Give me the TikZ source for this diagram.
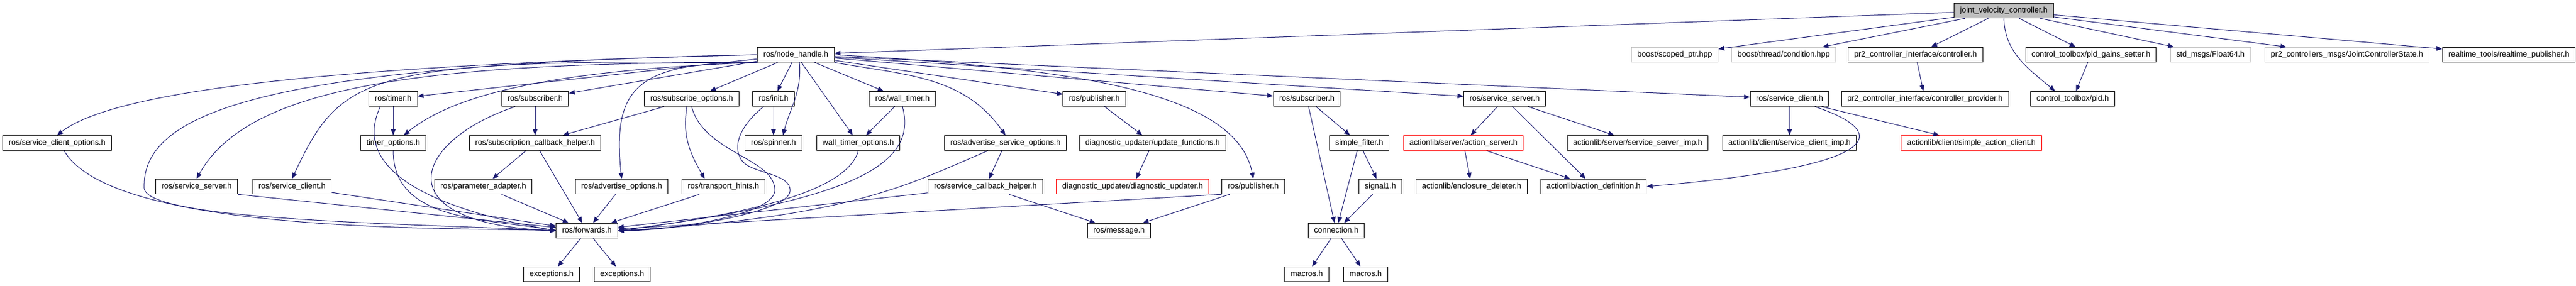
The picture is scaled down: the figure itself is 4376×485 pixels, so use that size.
\documentclass[tikz,border=0pt]{standalone}
\usepackage{fontspec}
\setmainfont{Liberation Sans}
\usetikzlibrary{arrows.meta}
\definecolor{edgeblue}{HTML}{191970}
\definecolor{boxgrey}{HTML}{BFBFBF}
\begin{document}
\begin{tikzpicture}[x=1pt, y=1pt]
            \tikzstyle{file} = [rectangle, draw=black, fill=white, line width=1pt, minimum height=25.5pt, inner xsep=10pt, inner ysep=0pt, text height=9.5pt, text depth=3pt, font=\fontsize{13.3}{16}\selectfont]
            \tikzstyle{mainfile} = [file, fill=boxgrey]
            \tikzstyle{nofile} = [file, draw=boxgrey]
            \tikzstyle{redfile} = [file, draw=red]
            \tikzstyle{edge} = [draw=edgeblue, line width=1pt, -{Triangle[length=10pt,width=8pt]}]
            \useasboundingbox (0,0) rectangle (4376,-485);

            \node[mainfile] (jvc) at (3404,-18) {joint\_velocity\_controller.h};

            \node[file] (nh) at (1352,-93) {ros/node\_handle.h};
            \node[nofile] (scptr) at (2845,-93) {boost/scoped\_ptr.hpp};
            \node[nofile] (cond) at (3030,-93) {boost/thread/condition.hpp};
            \node[file] (ctrl) at (3254,-93) {pr2\_controller\_interface/controller.h};
            \node[file] (pgs) at (3552,-93) {control\_toolbox/pid\_gains\_setter.h};
            \node[nofile] (f64) at (3755,-93) {std\_msgs/Float64.h};
            \node[nofile] (jcs) at (3987,-93) {pr2\_controllers\_msgs/JointControllerState.h};
            \node[file] (rtp) at (4262,-93) {realtime\_tools/realtime\_publisher.h};

            \node[file] (timer) at (668,-168) {ros/timer.h};
            \node[file] (sub) at (909,-168) {ros/subscriber.h};
            \node[file] (subopt) at (1175,-168) {ros/subscribe\_options.h};
            \node[file] (init) at (1314,-168) {ros/init.h};
            \node[file] (wtimer) at (1533,-168) {ros/wall\_timer.h};
            \node[file] (pub) at (1859,-168) {ros/publisher.h};
            \node[file] (subB) at (2220,-168) {ros/subscriber.h};
            \node[file] (srvB) at (2556,-168) {ros/service\_server.h};
            \node[file] (cliB) at (3040,-168) {ros/service\_client.h};
            \node[file] (prov) at (3270,-168) {pr2\_controller\_interface/controller\_provider.h};
            \node[file] (pid) at (3521,-168) {control\_toolbox/pid.h};

            \node[file] (cliopt) at (97,-243) {ros/service\_client\_options.h};
            \node[file] (topt) at (668,-243) {timer\_options.h};
            \node[file] (scbh) at (909,-243) {ros/subscription\_callback\_helper.h};
            \node[file] (spin) at (1314,-243) {ros/spinner.h};
            \node[file] (wtopt) at (1458,-243) {wall\_timer\_options.h};
            \node[file] (asopt) at (1708,-243) {ros/advertise\_service\_options.h};
            \node[file] (updf) at (1958,-243) {diagnostic\_updater/update\_functions.h};
            \node[file] (sfilt) at (2309,-243) {simple\_filter.h};
            \node[redfile] (asrv) at (2486,-243) {actionlib/server/action\_server.h};
            \node[file] (ssimp) at (2782,-243) {actionlib/server/service\_server\_imp.h};
            \node[file] (scimp) at (3040,-243) {actionlib/client/service\_client\_imp.h};
            \node[redfile] (sac) at (3349,-243) {actionlib/client/simple\_action\_client.h};

            \node[file] (srv) at (334,-317) {ros/service\_server.h};
            \node[file] (cli) at (496,-317) {ros/service\_client.h};
            \node[file] (padapt) at (821,-317) {ros/parameter\_adapter.h};
            \node[file] (advopt) at (1056,-317) {ros/advertise\_options.h};
            \node[file] (thints) at (1229,-317) {ros/transport\_hints.h};
            \node[file] (svcbh) at (1674,-317) {ros/service\_callback\_helper.h};
            \node[redfile] (dupd) at (1924,-317) {diagnostic\_updater/diagnostic\_updater.h};
            \node[file] (pubB) at (2129,-317) {ros/publisher.h};
            \node[file] (sig) at (2345,-317) {signal1.h};
            \node[file] (encl) at (2500,-317) {actionlib/enclosure\_deleter.h};
            \node[file] (adef) at (2707,-317) {actionlib/action\_definition.h};

            \node[file] (fwd) at (997,-392) {ros/forwards.h};
            \node[file] (msg) at (1901,-392) {ros/message.h};
            \node[file] (conn) at (2270,-392) {connection.h};

            \node[file] (exA) at (937,-466) {exceptions.h};
            \node[file] (exB) at (1057,-466) {exceptions.h};
            \node[file] (macA) at (2220,-466) {macros.h};
            \node[file] (macB) at (2320,-466) {macros.h};

            \draw[edge] (jvc)--(nh);
            \draw[edge] (jvc)--(scptr);
            \draw[edge] (jvc)--(cond);
            \draw[edge] (jvc)--(ctrl);
            \draw[edge] (jvc)--(pgs);
            \draw[edge] (jvc)--(f64);
            \draw[edge] (jvc)--(jcs);
            \draw[edge] (jvc)--(rtp);
            \draw[edge] (jvc.south) to [out=-88,in=140] ([xshift=-30pt]pid.north);
            \draw[edge] (ctrl)--(prov);
            \draw[edge] (pgs)--(pid);

            \draw[edge] (nh)--(timer);
            \draw[edge] (nh)--(sub);
            \draw[edge] (nh)--(subopt);
            \draw[edge] (nh)--(init);
            \draw[edge] (nh)--(wtopt);
            \draw[edge] (nh)--(wtimer);
            \draw[edge] (nh)--(pub);
            \draw[edge] (nh)--(subB);
            \draw[edge] (nh)--(srvB);
            \draw[edge] (nh)--(cliB);
            \draw[edge] (nh.west) .. controls (600,-110) and (200,-150) .. (cliopt.north);
            \draw[edge] (nh.west) .. controls (450,-110) and (240,-190) .. (245,-320) .. controls (250,-375) and (700,-380) .. (fwd.west);
            \draw[edge] (nh.south west) .. controls (700,-105) and (420,-150) .. (srv.north);
            \draw[edge] (nh.south west) .. controls (620,-100) and (580,-125) .. (cli.north);
            \draw[edge] (nh.south west) .. controls (900,-120) and (760,-170) .. ([xshift=18pt]topt.north);
            \draw[edge] (nh.south west) .. controls (1080,-105) and (1040,-150) .. (advopt.north);
            \draw[edge] ([xshift=6pt]nh.south) to [out=-85,in=75] ([xshift=16pt]spin.north);
            \draw[edge] (nh.south east) to [out=-10,in=125] (asopt.north);
            \draw[edge] (nh.east) .. controls (1800,-115) and (2100,-150) .. (pubB.north);

            \draw[edge] (timer)--(topt);
            \draw[edge] ([xshift=-22pt]timer.south) to [out=-115,in=170] (fwd.west);
            \draw[edge] (sub)--(scbh);
            \draw[edge] ([xshift=-34pt]sub.south) .. controls (700,-240) and (650,-380) .. (fwd.west);
            \draw[edge] (subopt)--(scbh);
            \draw[edge] ([xshift=-8pt]subopt.south) to [out=-100,in=120] ([xshift=-32pt]thints.north);
            \draw[edge] (subopt.south) .. controls (1195,-260) and (1320,-270) .. (1316,-325) .. controls (1312,-365) and (1150,-390) .. (fwd.east);
            \draw[edge] (init)--(spin);
            \draw[edge] ([xshift=-17pt]init.south) .. controls (1250,-220) and (1245,-255) .. (1262,-275) .. controls (1280,-295) and (1345,-295) .. (1342,-325) .. controls (1340,-360) and (1150,-392) .. (fwd.east);
            \draw[edge] (wtimer)--(wtopt);
            \draw[edge] (wtimer.south) .. controls (1560,-280) and (1450,-340) .. (fwd.east);

            \draw[edge] ([xshift=12pt]cliopt.south) to [out=-60,in=178,looseness=0.5] (fwd.west);
            \draw[edge] (topt.south) to [out=-90,in=170] (fwd.west);
            \draw[edge] (scbh)--(padapt);
            \draw[edge] (scbh)--(fwd);
            \draw[edge] (wtopt.south) .. controls (1440,-320) and (1300,-360) .. (fwd.east);
            \draw[edge] (asopt)--(svcbh);
            \draw[edge] ([xshift=-30pt]asopt.south) .. controls (1550,-310) and (1450,-370) .. (fwd.east);

            \draw[edge] (srv.south east)--(fwd);
            \draw[edge] (cli)--(fwd);
            \draw[edge] (padapt)--(fwd);
            \draw[edge] (advopt)--(fwd);
            \draw[edge] (thints)--(fwd);
            \draw[edge] (svcbh)--(msg);
            \draw[edge] (svcbh)--(fwd);
            \draw[edge] (fwd)--(exA);
            \draw[edge] (fwd)--(exB);

            \draw[edge] (pub)--(updf);
            \draw[edge] (updf)--(dupd);
            \draw[edge] (pubB)--(msg);
            \draw[edge] (pubB.south west)--(fwd);

            \draw[edge] (subB)--(sfilt);
            \draw[edge] (subB)--(conn);
            \draw[edge] (sfilt)--(conn);
            \draw[edge] (sfilt)--(sig);
            \draw[edge] (sig)--(conn);
            \draw[edge] (conn)--(macA);
            \draw[edge] (conn)--(macB);

            \draw[edge] (srvB)--(asrv);
            \draw[edge] (srvB)--(adef);
            \draw[edge] (srvB)--(ssimp);
            \draw[edge] (asrv)--(encl);
            \draw[edge] (asrv)--(adef);
            \draw[edge] (cliB)--(scimp);
            \draw[edge] (cliB)--(sac);
            \draw[edge] ([xshift=43pt]cliB.south) .. controls (3200,-220) and (3230,-280) .. (adef.east);
        \end{tikzpicture}
\end{document}
